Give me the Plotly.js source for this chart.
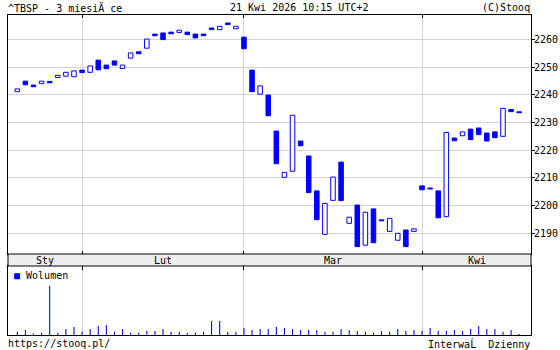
<!DOCTYPE html>
<html><head><meta charset="utf-8">
<script src="https://cdn.plot.ly/plotly-3.0.1.min.js"></script>
<style>html,body{margin:0;padding:0;background:#fff;}#chart{width:560px;height:350px;}</style>
</head><body><div id="chart"></div>
<script>
const dates = [
 '2026-01-21','2026-01-22','2026-01-23','2026-01-26','2026-01-27','2026-01-28','2026-01-29','2026-01-30',
 '2026-02-02','2026-02-03','2026-02-04','2026-02-05','2026-02-06','2026-02-09','2026-02-10','2026-02-11','2026-02-12','2026-02-13',
 '2026-02-16','2026-02-17','2026-02-18','2026-02-19','2026-02-20','2026-02-23','2026-02-24','2026-02-25','2026-02-26','2026-02-27',
 '2026-03-02','2026-03-03','2026-03-04','2026-03-05','2026-03-06','2026-03-09','2026-03-10','2026-03-11','2026-03-12','2026-03-13',
 '2026-03-16','2026-03-17','2026-03-18','2026-03-19','2026-03-20','2026-03-23','2026-03-24','2026-03-25','2026-03-26','2026-03-27',
 '2026-03-30','2026-03-31',
 '2026-04-01','2026-04-02','2026-04-07','2026-04-08','2026-04-09','2026-04-10','2026-04-13','2026-04-14','2026-04-15','2026-04-16',
 '2026-04-17','2026-04-20','2026-04-21'
];
const opens = [
 2241.1,2244.9,2243.5,2244.0,2244.8,2246.2,2246.7,2246.5,
 2248.9,2248.1,2252.5,2250.7,2252.2,2249.5,2253.2,2255.5,2256.8,2261.9,
 2262.3,2262.6,2262.5,2262.6,2261.9,2261.9,2264.1,2263.5,2265.9,2263.8,
 2260.8,2248.9,2240.2,2239.9,2226.9,2210.2,2212.4,2223.3,2217.9,2205.3,
 2189.6,2201.9,2215.7,2193.6,2200.2,2185.7,2198.8,2194.8,2190.7,2187.5,
 2191.2,2190.7,
 2207.1,2206.3,2205.3,2196.0,2224.4,2225.2,2227.6,2228.0,2226.2,2226.6,
 2225.0,2234.7,2233.8
];
const closes = [
 2242.1,2243.6,2242.9,2244.9,2244.3,2247.0,2248.1,2248.6,
 2248.0,2250.4,2249.0,2249.4,2250.7,2250.7,2255.1,2254.8,2260.1,2261.3,
 2259.9,2262.0,2263.3,2261.7,2260.5,2261.3,2263.5,2264.7,2265.3,2264.7,
 2256.6,2241.1,2243.2,2232.4,2215.1,2212.0,2232.6,2221.6,2204.7,2194.9,
 2200.8,2210.3,2201.8,2195.8,2185.2,2197.6,2186.6,2194.5,2195.4,2190.0,
 2185.2,2191.6,
 2205.7,2206.0,2195.6,2226.4,2223.4,2226.6,2223.8,2225.6,2223.3,2224.5,
 2235.1,2233.9,2233.5
];
const volumes = [
 33,50,13,23,490,23,60,80,
 33,60,90,100,33,60,23,23,43,40,
 60,33,33,23,23,33,140,140,33,33,
 70,53,60,60,80,70,60,50,50,50,
 33,33,60,50,40,33,23,40,33,60,
 40,50,
 43,70,43,43,50,40,60,90,60,60,
 33,50,10
];
const monthNames = {'01':'Sty','02':'Lut','03':'Mar','04':'Kwi'};
const priceTicks = [2190,2200,2210,2220,2230,2240,2250,2260];
const titleText = '^TBSP - 3 miesiÄ\u00a0ce';
const dateText = '21 Kwi 2026 10:15 UTC+2';
const copyText = '(C)Stooq';
const urlText = 'https://stooq.pl/';
const intervalText = 'InterwaĹ\u00a0\u00a0Dzienny';
const volumeLabel = 'Wolumen';

const BLUE = '#0000ff';
const FONT = 'DejaVu Sans Mono';
const xRange = [-1.15, 63.46];
const yRange = [2182.53, 2268.78];
const volRange = [0, 690];
const mainDom = [0.2531, 1];
const volDom = [0, 0.2156];

const starts = [];
dates.forEach((d, i) => { if (i === 0 || d.slice(5,7) !== dates[i-1].slice(5,7)) starts.push(i); });
const gridDates = starts.slice(1).map(i => dates[i]);
const monthAnn = starts.map((s, k) => {
  const a = k === 0 ? xRange[0] : s;
  const b = k < starts.length - 1 ? starts[k+1] : xRange[1];
  return {xref:'x', yref:'paper', x:(a+b)/2, y:(mainDom[0]+volDom[1])/2, text:monthNames[dates[s].slice(5,7)],
          showarrow:false, xanchor:'center', yanchor:'middle', font:{family:FONT,size:10,color:'#000'}};
});

const base = opens.map((o,i) => Math.min(o, closes[i]));
const body = opens.map((o,i) => Math.max(Math.abs(closes[i]-o), 0.35));
const fills = opens.map((o,i) => closes[i] >= o ? '#ffffff' : BLUE);

const candles = {type:'bar', x:dates, base:base, y:body, width:0.56, xaxis:'x', yaxis:'y',
  marker:{color:fills, line:{color:BLUE, width:1}}, showlegend:false, hoverinfo:'skip'};
const vol = {type:'bar', x:dates, y:volumes, width:0.13, xaxis:'x2', yaxis:'y2',
  marker:{color:BLUE, line:{width:0}}, showlegend:false, hoverinfo:'skip'};

const px2x = p => (p - 8) / 523;
const py2y = p => (335 - p) / 320;
const txt = (t, x, y, xa) => ({xref:'paper', yref:'paper', x:x, y:y, text:t, showarrow:false,
  xanchor:xa, yanchor:'middle', font:{family:FONT, size:10, color:'#000'}});

const layout = {
  width:560, height:350, margin:{l:8, r:29, t:15, b:15, pad:0},
  paper_bgcolor:'#fff', plot_bgcolor:'#fff', barmode:'overlay', showlegend:false,
  xaxis:{type:'category', domain:[0,1], range:xRange, anchor:'y', tickvals:gridDates, showticklabels:false,
    ticks:'inside', ticklen:3, tickcolor:'#000', showgrid:true, gridcolor:'#d3d3d3', gridwidth:1,
    showline:true, linecolor:'#000', linewidth:1, mirror:'ticks', zeroline:false, fixedrange:true},
  yaxis:{domain:mainDom, range:yRange, side:'right', anchor:'x', tickvals:priceTicks, ticks:'outside', ticklen:3,
    ticklabelstandoff:-3,
    tickcolor:'#000', showgrid:true, gridcolor:'#d3d3d3', showline:true, linecolor:'#000', linewidth:1, mirror:true,
    zeroline:false, tickfont:{family:FONT, size:10, color:'#000'}, fixedrange:true},
  yaxis3:{overlaying:'y', side:'left', anchor:'x', range:yRange, tickvals:priceTicks, ticks:'inside', ticklen:4,
    tickcolor:'#000', showticklabels:false, showgrid:false, showline:false, zeroline:false, fixedrange:true},
  xaxis2:{type:'category', matches:'x', domain:[0,1], anchor:'y2', side:'top', tickvals:gridDates, showticklabels:false,
    ticks:'inside', ticklen:4, tickcolor:'#000', showgrid:true, gridcolor:'#d3d3d3', showline:true, linecolor:'#000',
    linewidth:1, mirror:true, zeroline:false, fixedrange:true},
  yaxis2:{domain:volDom, range:volRange, anchor:'x2', showgrid:false, showticklabels:false, ticks:'',
    showline:true, linecolor:'#000', linewidth:1, mirror:true, zeroline:false, fixedrange:true},
  shapes:[{type:'rect', xref:'paper', yref:'paper', x0:0, x1:1, y0:volDom[1], y1:mainDom[0],
    fillcolor:'#eeeeee', line:{color:'#000', width:1}, layer:'above'}],
  annotations: monthAnn.concat([
    txt(titleText, px2x(6), py2y(7.5), 'left'),
    txt(dateText, px2x(298.5), py2y(7.5), 'center'),
    txt(copyText, px2x(532), py2y(7.5), 'right'),
    txt(urlText, px2x(6), py2y(343.5), 'left'),
    txt(intervalText, px2x(532), py2y(343.5), 'right'),
    txt('<span style="color:'+BLUE+'">■</span>\u00a0'+volumeLabel, px2x(12), py2y(275.5), 'left')
  ])
};
Plotly.newPlot('chart', [candles, vol], layout, {staticPlot:true, displayModeBar:false});
</script></body></html>
